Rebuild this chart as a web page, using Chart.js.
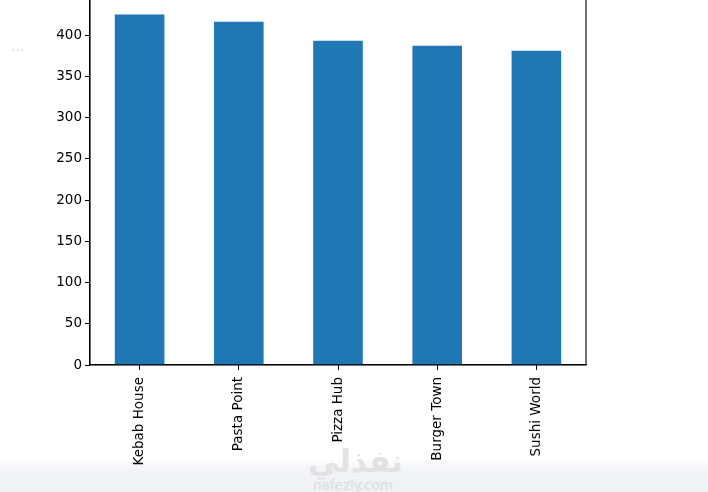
<!DOCTYPE html>
<html>
<head>
<meta charset="utf-8">
<script src="https://cdn.jsdelivr.net/npm/chart.js@4/dist/chart.umd.min.js"></script>
<style>
  html, body { margin:0; padding:0; background:#ffffff; width:708px; height:492px; overflow:hidden; }
  #band { position:absolute; left:0; top:458px; width:708px; height:34px;
          background:linear-gradient(to bottom, rgba(238,241,245,0) 0%, #f1f3f7 40%, #eef1f5 100%); }
  #wm1 { position:absolute; left:308px; top:443px; width:92px; text-align:center;
         font-family:"Noto Sans", "DejaVu Sans", sans-serif; font-weight:bold; font-size:31px; color:#e2e2e2; line-height:34px; }
  #wm2 { position:absolute; left:300px; top:478px; width:106px; text-align:center;
         font-family:"DejaVu Sans", sans-serif; font-size:13.5px; color:#dcdcdc; line-height:15px; }
  #dots { position:absolute; left:11px; top:38px; font-family:"DejaVu Sans", sans-serif; font-size:14px; color:#dcdcdc; }
  #wrap { position:absolute; left:0; top:-14px; width:708px; height:506px; }
</style>
</head>
<body>
<div id="band"></div>
<div id="wm1">نفذلي</div>
<div id="wm2">nafezly.com</div>
<div id="dots">...</div>
<div id="wrap"><canvas id="c"></canvas></div>
<script>
const categories = ["Kebab House", "Pasta Point", "Pizza Hub", "Burger Town", "Sushi World"];
const values = [425, 416, 393, 387, 381];
const yTicks = [0, 50, 100, 150, 200, 250, 300, 350, 400];

const frame = {
  id: 'frame',
  afterDraw(chart) {
    const a = chart.chartArea, ctx = chart.ctx;
    ctx.save();
    ctx.strokeStyle = '#000';
    ctx.lineWidth = 1.1;
    ctx.strokeRect(a.left, a.top, a.right - a.left, a.bottom - a.top);
    ctx.restore();
  }
};

new Chart(document.getElementById('c'), {
  type: 'bar',
  data: {
    labels: categories,
    datasets: [{ data: values, backgroundColor: '#1f77b4', borderWidth: 0,
                 barPercentage: 0.5, categoryPercentage: 1.0 }]
  },
  options: {
    responsive: true, maintainAspectRatio: false, animation: false,
    layout: { padding: { left: 0, right: 122, top: 0, bottom: 0 } },
    plugins: { legend: { display: false }, tooltip: { enabled: false } },
    scales: {
      x: {
        offset: true,
        grid: { display: true, drawOnChartArea: false, drawTicks: true, tickLength: 5, color: '#000', offset: false },
        border: { display: true, color: '#000', width: 1.1 },
        ticks: { color: '#000', maxRotation: 90, minRotation: 90, padding: 7,
                 font: { family: 'DejaVu Sans', size: 13.5 } },
        afterFit(s) { s.height = 127; }
      },
      y: {
        min: 0, max: 446,
        grid: { display: true, drawOnChartArea: false, drawTicks: true, tickLength: 5, color: '#000' },
        border: { display: true, color: '#000', width: 1.1 },
        afterBuildTicks(s) { s.ticks = yTicks.map(v => ({ value: v })); },
        ticks: { color: '#000', padding: 3, font: { family: 'DejaVu Sans', size: 13.5 } },
        afterFit(s) { s.width = 90; }
      }
    }
  },
  plugins: [frame]
});
</script>
</body>
</html>
